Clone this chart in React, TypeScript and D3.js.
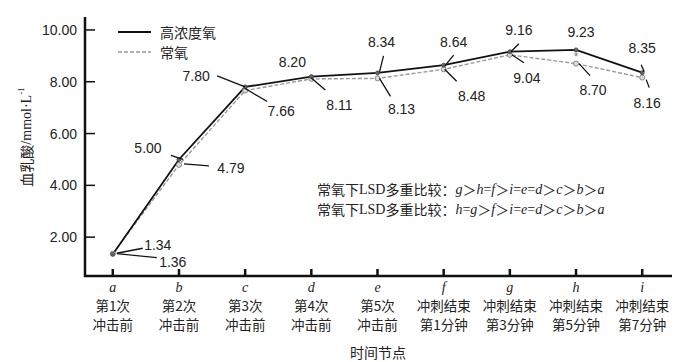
import React from "react";
import { scalePoint, scaleLinear, line } from "d3";

// categories on the x axis
const letters = ["a", "b", "c", "d", "e", "f", "g", "h", "i"];
const labelLine1 = ["第1次", "第2次", "第3次", "第4次", "第5次", "冲刺结束", "冲刺结束", "冲刺结束", "冲刺结束"];
const labelLine2 = ["冲击前", "冲击前", "冲击前", "冲击前", "冲击前", "第1分钟", "第3分钟", "第5分钟", "第7分钟"];

// series values (mmol/L)
const highOxygen = [1.34, 5.0, 7.8, 8.2, 8.34, 8.64, 9.16, 9.23, 8.35];
const normalOxygen = [1.36, 4.79, 7.66, 8.11, 8.13, 8.48, 9.04, 8.7, 8.16];

const yTicks = [2, 4, 6, 8, 10];

// label placement relative to each point: text offset, leader line offsets
type Lab = { tx: number; ty: number; l?: [number, number, number, number] };
const highLabels: Lab[] = [
  { tx: 45, ty: -9, l: [4, -1, 30, -6] },
  { tx: -31, ty: -11, l: [-8, -4, 4, 0] },
  { tx: -49, ty: -11, l: [-28, -11, 0, 0] },
  { tx: -19, ty: -15 },
  { tx: 4, ty: -31, l: [6, -17, 2, -1] },
  { tx: 10, ty: -23, l: [10, -10, 1, 1] },
  { tx: 9, ty: -22, l: [9, -8, 1, 0] },
  { tx: 5, ty: -18 },
  { tx: 0, ty: -25, l: [-1, -8, 2, -1] },
];
const normalLabels: Lab[] = [
  { tx: 60, ty: 8, l: [4, 0, 44, 4] },
  { tx: 52, ty: 3, l: [5, -1, 30, 1] },
  { tx: 36, ty: 20, l: [0, -2, 22, 11] },
  { tx: 28, ty: 26, l: [0, -1, 14, 11] },
  { tx: 24, ty: 31, l: [2, 0, 13, 18] },
  { tx: 28, ty: 27, l: [1, 0, 13, 12] },
  { tx: 17, ty: 23, l: [2, 0, 14, 8] },
  { tx: 17, ty: 26, l: [3, 0, 14, 12] },
  { tx: 5, ty: 25, l: [4, 2, 7, 10] },
];

const W = 700;
const H = 362;
const sans = "'Liberation Sans', Arial, sans-serif";
const cjk = "'Noto Sans CJK SC', sans-serif";
const serif = "'Liberation Serif', 'Times New Roman', serif";

export default function App() {
  const x = scalePoint<string>().domain(letters).range([85, 670]).padding(0.42);
  const y = scaleLinear().domain([0.5, 10.5]).range([276, 17]);

  const path = line<number>()
    .x((_, i) => x(letters[i]) as number)
    .y((d) => y(d));

  const renderLabels = (vals: number[], labs: Lab[], key: string) =>
    vals.map((v, i) => {
      const px = x(letters[i]) as number;
      const py = y(v);
      const lb = labs[i];
      return (
        <g key={key + i}>
          {lb.l && (
            <line
              x1={px + lb.l[0]}
              y1={py + lb.l[1]}
              x2={px + lb.l[2]}
              y2={py + lb.l[3]}
              stroke="#111"
              strokeWidth={1.3}
            />
          )}
          <text
            x={px + lb.tx}
            y={py + lb.ty}
            textAnchor="middle"
            dominantBaseline="central"
            fontFamily={sans}
            fontSize={14}
            fill="#222"
          >
            {v.toFixed(2)}
          </text>
        </g>
      );
    });

  return (
    <svg width={W} height={H} style={{ position: "absolute", left: 0, top: 0, background: "#fff" }}>
      {/* axes */}
      <line x1={85} y1={17} x2={85} y2={277} stroke="#111" strokeWidth={2.5} />
      <line x1={84} y1={276} x2={672} y2={276} stroke="#111" strokeWidth={2.5} />
      {yTicks.map((t) => (
        <g key={"yt" + t}>
          <line x1={85} x2={95} y1={y(t)} y2={y(t)} stroke="#111" strokeWidth={1.5} />
          <text x={77} y={y(t)} textAnchor="end" dominantBaseline="central" fontFamily={sans} fontSize={14} fill="#222">
            {t.toFixed(2)}
          </text>
        </g>
      ))}
      {letters.map((c, i) => {
        const px = x(c) as number;
        return (
          <g key={"xt" + c}>
            <line x1={px} x2={px} y1={276} y2={269} stroke="#111" strokeWidth={2.5} />
            <text x={px} y={287} textAnchor="middle" dominantBaseline="central" fontFamily={serif} fontStyle="italic" fontSize={14} fill="#222">
              {c}
            </text>
            <text x={px} y={305} textAnchor="middle" dominantBaseline="central" fontFamily={cjk} fontSize={13.5} fill="#222">
              {labelLine1[i]}
            </text>
            <text x={px} y={324} textAnchor="middle" dominantBaseline="central" fontFamily={cjk} fontSize={13.5} fill="#222">
              {labelLine2[i]}
            </text>
          </g>
        );
      })}
      <text x={378} y={352} textAnchor="middle" dominantBaseline="central" fontFamily={cjk} fontSize={14} fill="#222">
        时间节点
      </text>
      <text
        transform="translate(26,137) rotate(-90)"
        textAnchor="middle"
        dominantBaseline="central"
        fontSize={14}
        fill="#222"
      >
        <tspan fontFamily={cjk}>血乳酸</tspan>
        <tspan fontFamily={serif}>/mmol·L</tspan>
        <tspan fontFamily={serif} fontSize={9} dy={-5}>-1</tspan>
      </text>

      {/* series */}
      <path d={path(normalOxygen) || ""} fill="none" stroke="#999" strokeWidth={1.4} strokeDasharray="4,2" />
      <path d={path(highOxygen) || ""} fill="none" stroke="#111" strokeWidth={1.8} />
      {normalOxygen.map((v, i) => (
        <circle key={"nm" + i} cx={x(letters[i])} cy={y(v)} r={2.5} fill="#ddd" stroke="#888" strokeWidth={1} />
      ))}
      {highOxygen.map((v, i) => (
        <circle key={"hm" + i} cx={x(letters[i])} cy={y(v)} r={2} fill="#666" stroke="#444" strokeWidth={0.8} />
      ))}
      <text x={x("h") as number} y={y(8.97)} textAnchor="middle" dominantBaseline="central" fontFamily={sans} fontSize={13} fill="#888">
        *
      </text>

      {renderLabels(highOxygen, highLabels, "hl")}
      {renderLabels(normalOxygen, normalLabels, "nl")}

      {/* legend */}
      <line x1={118} x2={151} y1={32} y2={32} stroke="#111" strokeWidth={1.8} />
      <text x={160} y={32} dominantBaseline="central" fontFamily={cjk} fontSize={14} fill="#222">
        高浓度氧
      </text>
      <line x1={118} x2={151} y1={52} y2={52} stroke="#999" strokeWidth={1.4} strokeDasharray="4,2" />
      <text x={160} y={52} dominantBaseline="central" fontFamily={cjk} fontSize={14} fill="#222">
        常氧
      </text>

      {/* LSD comparison notes */}
      {[
        ["g", "＞", "h", "=", "f", "＞", "i", "=", "e", "=", "d", "＞", "c", "＞", "b", "＞", "a"],
        ["h", "=", "g", "＞", "f", "＞", "i", "=", "e", "=", "d", "＞", "c", "＞", "b", "＞", "a"],
      ].map((seq, r) => (
        <text key={"lsd" + r} x={317} y={189 + r * 20} dominantBaseline="central" fontSize={14} fill="#222">
          <tspan fontFamily={cjk}>常氧下</tspan>
          <tspan fontFamily={serif}>LSD</tspan>
          <tspan fontFamily={cjk}>多重比较：</tspan>
          {seq.map((s, k) =>
            s === "＞" ? (
              <tspan key={k} fontFamily={cjk}>{s}</tspan>
            ) : (
              <tspan key={k} fontFamily={serif} fontStyle={s === "=" ? "normal" : "italic"}>{s}</tspan>
            )
          )}
        </text>
      ))}
    </svg>
  );
}
